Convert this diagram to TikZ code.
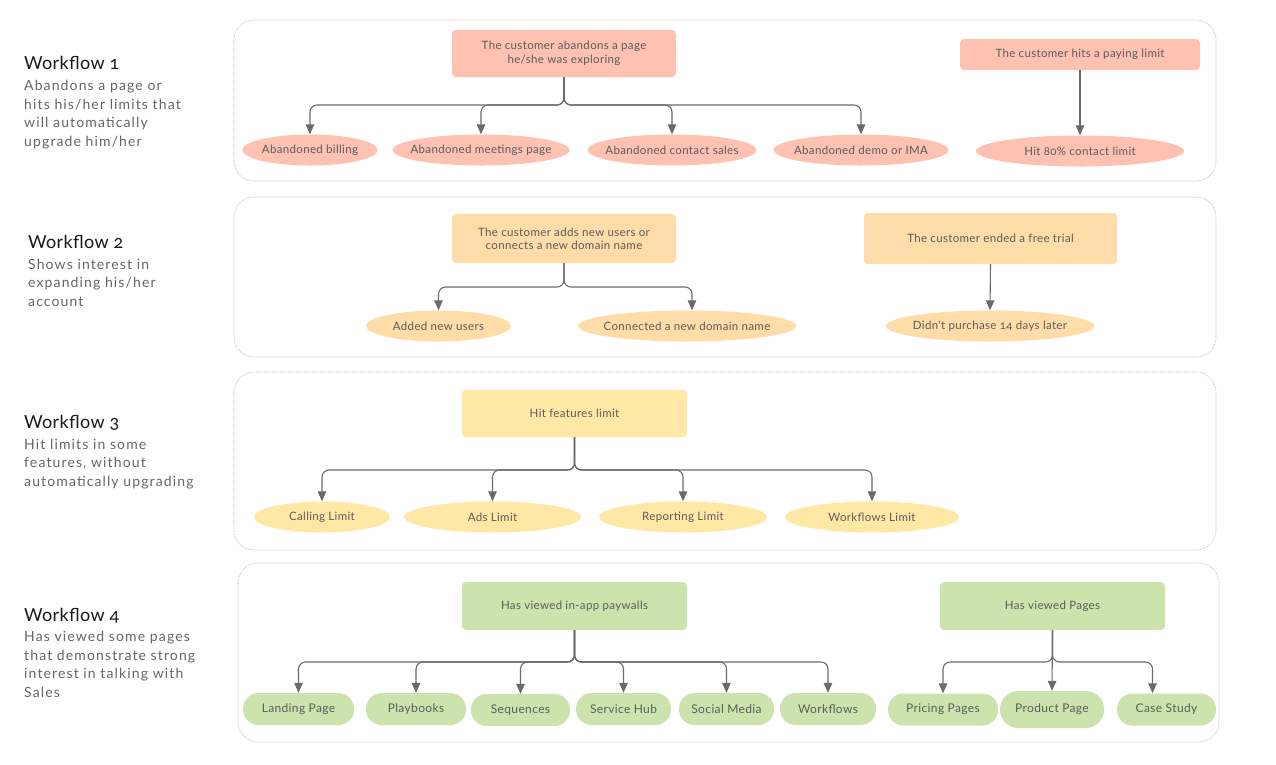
\documentclass[tikz,border=0pt]{standalone}
\usepackage{fontspec}
\setmainfont{Lato}
\newfontfamily\nodefont[LetterSpace=3,Numbers=OldStyle]{Lato}
\newfontfamily\descfont[LetterSpace=8]{Lato}
\newfontfamily\titlefont[Numbers=OldStyle,LetterSpace=2]{Lato}
\usetikzlibrary{arrows.meta,shapes.geometric}
\definecolor{salmon}{HTML}{FEC1B2}
\definecolor{peach}{HTML}{FFDCA8}
\definecolor{butter}{HTML}{FFE8A6}
\definecolor{sage}{HTML}{CDE3AD}
\definecolor{linegray}{HTML}{6A6A6A}
\definecolor{txt}{HTML}{5C5C5C}
\definecolor{frame}{HTML}{BDBDBD}
\newcommand{\zw}[1]{\makebox[0pt]{#1}}
\begin{document}
\begin{tikzpicture}[x=1pt,y=-1pt,
 panel/.style={draw=frame, line width=0.6pt, dash pattern=on 0.8pt off 0.8pt, rounded corners=20pt},
 box/.style={rectangle, rounded corners=4pt, inner sep=0pt, text=txt, font=\nodefont\fontsize{11.5}{13}\selectfont, align=center},
 ell/.style={ellipse, inner sep=0pt, minimum height=31pt, text=txt, font=\nodefont\fontsize{11.5}{13}\selectfont},
 pill/.style={rectangle, rounded corners=15.5pt, inner sep=0pt, minimum height=32pt, text=txt, font=\nodefont\fontsize{12}{13}\selectfont},
 conn/.style={draw=linegray, line width=1.1pt, rounded corners=7pt, -{Triangle[length=10pt,width=8.5pt]}},
 wtitle/.style={anchor=base west, font=\titlefont\fontsize{18}{20}\selectfont, text=black!90, inner sep=0pt},
 wdesc/.style={anchor=base west, font=\descfont\fontsize{14}{16}\selectfont, text=black!60, inner sep=0pt},
]
\useasboundingbox[fill=white] (0,0) rectangle (1276,764);

% panels
\draw[panel] (234,20) rectangle (1216,181);
\draw[panel] (234,197) rectangle (1216,357);
\draw[panel] (234,372) rectangle (1216,550);
\draw[panel] (238,563) rectangle (1219,742);

% left labels
\node[wtitle] (t1) at (24,69) {Workflow 1};
\node[wdesc] (t1a) at (24,90) {Abandons a page or};
\node[wdesc] (t1b) at (24,109) {hits his/her limits that};
\node[wdesc] (t1c) at (24,127.5) {will automatically};
\node[wdesc] (t1d) at (24,146) {upgrade him/her};

\node[wtitle] (t2) at (28,248) {Workflow 2};
\node[wdesc] (t2a) at (28,269) {Shows interest in};
\node[wdesc] (t2b) at (28,287.5) {expanding his/her};
\node[wdesc] (t2c) at (28,306) {account};

\node[wtitle] (t3) at (24,428) {Workflow 3};
\node[wdesc] (t3a) at (24,449) {Hit limits in some};
\node[wdesc] (t3b) at (24,467.5) {features, without};
\node[wdesc] (t3c) at (24,486) {automatically upgrading};

\node[wtitle] (t4) at (24,621) {Workflow 4};
\node[wdesc] (t4a) at (24,641) {Has viewed some pages};
\node[wdesc] (t4b) at (24,660) {that demonstrate strong};
\node[wdesc] (t4c) at (24,678.5) {interest in talking with};
\node[wdesc] (t4d) at (24,697) {Sales};

% junction levels
\coordinate (h1) at (0,105);
\coordinate (h2) at (0,287);
\coordinate (h3) at (0,470);
\coordinate (h4) at (0,662);

% Workflow 1
\node[box, fill=salmon, minimum width=224pt, minimum height=47pt] (a1) at (564,53.5) {\raisebox{-2.5pt}{\shortstack{The customer abandons a page\\he/she was exploring}}};
\node[box, fill=salmon, minimum width=240pt, minimum height=31pt] (a2) at (1080,54.5) {\raisebox{-1.5pt}{The customer hits a paying limit}};
\node[ell, fill=salmon, minimum width=135pt] (a1c1) at (310,150) {\zw{Abandoned billing}};
\node[ell, fill=salmon, minimum width=177pt] (a1c2) at (481,150) {\zw{Abandoned meetings page}};
\node[ell, fill=salmon, minimum width=169pt] (a1c3) at (672,150) {\zw{Abandoned contact sales}};
\node[ell, fill=salmon, minimum width=175pt] (a1c4) at (861,150) {\zw{Abandoned demo or IMA}};
\node[ell, fill=salmon, minimum width=208pt] (a2c1) at (1080,151) {\zw{Hit 80\% contact limit}};
\foreach \c in {a1c1,a1c2,a1c3,a1c4}
  \draw[conn] (a1.south) -- (a1.south |- h1) -- (\c.north |- h1) -- (\c.north);
\draw[conn] (a2.south) -- (a2c1.north);

% Workflow 2
\node[box, fill=peach, minimum width=224pt, minimum height=49pt] (b1) at (564,238.5) {The customer adds new users or\\connects a new domain name};
\node[box, fill=peach, minimum width=253pt, minimum height=51pt] (b2) at (990.5,238.5) {The customer ended a free trial};
\node[ell, fill=peach, minimum width=145pt] (b1c1) at (438.5,326) {\zw{Added new users}};
\node[ell, fill=peach, minimum width=218pt] (b1c2) at (687,326) {\zw{Connected a new domain name}};
\node[ell, fill=peach, minimum width=208pt] (b2c1) at (990,326) {\zw{Didn't purchase 14 days later}};
\draw[conn] (b1.south) -- (b1.south |- h2) -- (b1c1.north |- h2) -- (b1c1.north);
\draw[conn] (b1.south) -- (b1.south |- h2) -- ([xshift=5pt]b1c2.north |- h2) -- ([xshift=5pt]b1c2.north);
\draw[conn] (b2.south) -- (b2c1.north);

% Workflow 3
\node[box, fill=butter, minimum width=225pt, minimum height=47pt] (c1) at (574.5,413.5) {Hit features limit};
\node[ell, fill=butter, minimum width=136pt] (c1c1) at (322,517) {\zw{Calling Limit}};
\node[ell, fill=butter, minimum width=177pt] (c1c2) at (492.5,517) {\zw{Ads Limit}};
\node[ell, fill=butter, minimum width=168pt] (c1c3) at (683,517) {\zw{Reporting Limit}};
\node[ell, fill=butter, minimum width=174pt] (c1c4) at (872,517) {\zw{Workflows Limit}};
\foreach \c in {c1c1,c1c2,c1c3,c1c4}
  \draw[conn] (c1.south) -- (c1.south |- h3) -- (\c.north |- h3) -- (\c.north);

% Workflow 4
\node[box, fill=sage, minimum width=225pt, minimum height=48pt] (d1) at (574.5,606) {Has viewed in-app paywalls};
\node[box, fill=sage, minimum width=225pt, minimum height=48pt] (d2) at (1052.5,606) {Has viewed Pages};
\node[pill, fill=sage, minimum width=111pt] (d1c1) at (298.5,709) {\zw{Landing Page}};
\node[pill, fill=sage, minimum width=100pt] (d1c2) at (416,709) {\zw{Playbooks}};
\node[pill, fill=sage, minimum width=99pt] (d1c3) at (520.5,710) {\zw{Sequences}};
\node[pill, fill=sage, minimum width=95pt] (d1c4) at (623.5,709) {\zw{Service Hub}};
\node[pill, fill=sage, minimum width=95pt] (d1c5) at (726.5,709) {\zw{Social Media}};
\node[pill, fill=sage, minimum width=96pt] (d1c6) at (828,709) {\zw{Workflows}};
\node[pill, fill=sage, minimum width=110pt] (d2c1) at (943,709.5) {\zw{Pricing Pages}};
\node[pill, fill=sage, minimum width=104pt, minimum height=37pt, rounded corners=18pt] (d2c2) at (1052,709.5) {\zw{Product Page}};
\node[pill, fill=sage, minimum width=99pt] (d2c3) at (1166.5,709.5) {\zw{Case Study}};
\foreach \c in {d1c1,d1c2,d1c3,d1c4,d1c5,d1c6}
  \draw[conn] (d1.south) -- (d1.south |- h4) -- (\c.north |- h4) -- (\c.north);
\draw[conn] (d2.south) -- (d2.south |- h4) -- (d2c1.north |- h4) -- (d2c1.north);
\draw[conn] (d2.south) -- (d2c2.north);
\draw[conn] (d2.south) -- (d2.south |- h4) -- ([xshift=-14pt]d2c3.north |- h4) -- ([xshift=-14pt]d2c3.north);
\end{tikzpicture}
\end{document}
